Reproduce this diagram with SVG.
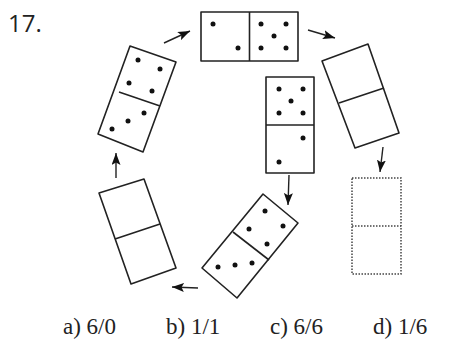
<svg xmlns="http://www.w3.org/2000/svg" width="453" height="351" viewBox="0 0 453 351">
<defs>
<style>
.d{fill:#fff;stroke:#222;stroke-width:1.6;stroke-linejoin:round}
.dv{fill:none;stroke:#222;stroke-width:1.6}
.dot{fill:#111}
.dash{fill:none;stroke:#444;stroke-width:1.5;stroke-dasharray:1.5 1.5}
.c{fill:none;stroke:#222;stroke-width:1.4}
.lbl{font-family:"Liberation Serif",serif;font-size:23px;fill:#222}
.num{font-family:"Open Sans","Liberation Sans",sans-serif;font-size:24px;fill:#222}
</style>
<marker id="ah" viewBox="0 0 12 9" refX="12" refY="4.5" markerWidth="12" markerHeight="9" markerUnits="userSpaceOnUse" orient="auto">
<path d="M0,0 L12,4.5 L0,9 L2.5,4.5 Z" fill="#111"/>
</marker>
</defs>
<rect width="453" height="351" fill="#fff"/>
<text class="num" x="8" y="32">17.</text>

<g id="domino-top">
<rect class="d" x="201" y="12" width="97" height="49"/>
<line class="dv" x1="249.5" y1="12" x2="249.5" y2="61"/>
<circle class="dot" cx="213" cy="24" r="2.5"/>
<circle class="dot" cx="238" cy="48" r="2.5"/>
<circle class="dot" cx="261" cy="24" r="2.5"/>
<circle class="dot" cx="286" cy="24" r="2.5"/>
<circle class="dot" cx="274" cy="36" r="2.5"/>
<circle class="dot" cx="261" cy="48" r="2.5"/>
<circle class="dot" cx="286" cy="48" r="2.5"/>
</g>

<g id="domino-upper-right">
<polygon class="d" points="322,61 368,44 399,133 355,148"/>
<line class="dv" x1="339" y1="103" x2="384" y2="88"/>
</g>

<g id="domino-dotted">
<rect class="dash" x="352" y="178" width="49" height="96"/>
<line class="dash" x1="352" y1="226" x2="401" y2="226"/>
</g>

<g id="domino-center">
<rect class="d" x="266" y="77" width="48" height="96"/>
<line class="dv" x1="266" y1="125" x2="314" y2="125"/>
<circle class="dot" cx="279" cy="89" r="2.5"/>
<circle class="dot" cx="303" cy="89" r="2.5"/>
<circle class="dot" cx="291" cy="101" r="2.5"/>
<circle class="dot" cx="279" cy="113" r="2.5"/>
<circle class="dot" cx="303" cy="113" r="2.5"/>
<circle class="dot" cx="303" cy="138" r="2.5"/>
<circle class="dot" cx="279" cy="162" r="2.5"/>
</g>

<g id="domino-bottom">
<polygon class="d" points="263,194 298,223 237,298 202,268"/>
<line class="dv" x1="233" y1="232" x2="269" y2="260"/>
<circle class="dot" cx="265" cy="211" r="2.5"/>
<circle class="dot" cx="283" cy="226" r="2.5"/>
<circle class="dot" cx="249" cy="229" r="2.5"/>
<circle class="dot" cx="267" cy="244" r="2.5"/>
<circle class="dot" cx="218" cy="267" r="2.5"/>
<circle class="dot" cx="235" cy="265" r="2.5"/>
<circle class="dot" cx="252" cy="263" r="2.5"/>
</g>

<g id="domino-lower-left">
<polygon class="d" points="99,193 144,179 176,268 131,284"/>
<line class="dv" x1="115" y1="239" x2="160" y2="224"/>
</g>

<g id="domino-upper-left">
<polygon class="d" points="130,46 176,62 143,152 98,134"/>
<line class="dv" x1="119" y1="92" x2="160" y2="106"/>
<circle class="dot" cx="138" cy="60" r="2.5"/>
<circle class="dot" cx="160" cy="69" r="2.5"/>
<circle class="dot" cx="129" cy="83" r="2.5"/>
<circle class="dot" cx="152" cy="91" r="2.5"/>
<circle class="dot" cx="144" cy="113" r="2.5"/>
<circle class="dot" cx="128" cy="121" r="2.5"/>
<circle class="dot" cx="112" cy="129" r="2.5"/>
</g>

<g id="connectors">
<line class="c" x1="164" y1="43" x2="190" y2="31" marker-end="url(#ah)"/>
<line class="c" x1="308" y1="30" x2="335" y2="38" marker-end="url(#ah)"/>
<line class="c" x1="383" y1="147" x2="380" y2="172" marker-end="url(#ah)"/>
<line class="c" x1="289" y1="175" x2="288" y2="205" marker-end="url(#ah)"/>
<line class="c" x1="198" y1="288" x2="172" y2="287" marker-end="url(#ah)"/>
<line class="c" x1="116" y1="178" x2="116" y2="153" marker-end="url(#ah)"/>
</g>

<text class="lbl" x="63" y="334">a) 6/0</text>
<text class="lbl" x="166" y="334">b) 1/1</text>
<text class="lbl" x="270" y="334">c) 6/6</text>
<text class="lbl" x="373" y="334">d) 1/6</text>
</svg>
